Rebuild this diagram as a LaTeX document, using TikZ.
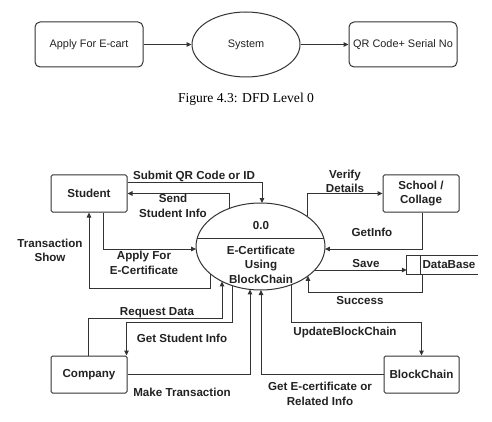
\documentclass[tikz,border=0pt]{standalone}
\usepackage{fontspec}
\setmainfont{Liberation Serif}
\setsansfont{Liberation Sans}
\usetikzlibrary{arrows.meta,shapes.geometric}
\definecolor{ln}{HTML}{333333}
\definecolor{tx}{HTML}{222222}
\begin{document}
\begin{tikzpicture}[x=1pt,y=-1pt,
 line/.style={draw=ln,line width=1pt},
 arr/.style={line,-{Triangle[length=5pt,width=4.5pt]}},
 tfont/.style={font=\sffamily\fontsize{10.9}{13}\selectfont,text=tx},
 tbox/.style={draw=ln,line width=1pt,rounded corners=5pt,minimum width=108pt,minimum height=45pt,inner sep=0pt,tfont},
 tell/.style={ellipse,draw=ln,line width=1pt,minimum width=108pt,minimum height=65pt,inner sep=0pt,tfont},
 bfont/.style={font=\sffamily\bfseries\fontsize{11.6}{14.5}\selectfont,text=tx,align=center},
 ebox/.style={draw=ln,line width=1pt,rounded corners=1.5pt,minimum width=76pt,minimum height=37pt,inner sep=0pt,bfont},
 lbl/.style={inner sep=0pt,bfont},
]
\useasboundingbox (0,0) rectangle (492,422);
\fill[white] (0,0) rectangle (492,422);
% ---- Level 0 ----
\node[tbox] (ap) at (89,44.5) {Apply For E-cart};
\node[tell] (sys) at (246,44.5) {System};
\node[tbox] (qr) at (403,44.5) {QR Code+ Serial No};
\draw[arr] (ap) -- (sys);
\draw[arr] (sys) -- (qr);
\node[font=\rmfamily\fontsize{13.6}{16}\selectfont,text=black] (cap) at (246,99) {Figure 4.3: DFD Level 0};
% ---- Level 1 ----
\node[ebox] (S) at (89,193.5) {Student};
\node[ebox] (Sc) at (421,193.5) {School /\\Collage};
\node[ebox] (Co) at (89,374.5) {Company};
\node[ebox,minimum width=75pt] (BC) at (421.5,374.5) {BlockChain};
\node[ellipse,draw=ln,line width=1pt,minimum width=129pt,minimum height=87pt,inner sep=0pt] (E) at (260.5,246.5) {};
\draw[line] (197.2,238) -- (323.8,238);
\node[lbl] (e0) at (261,226) {0.0};
\node[lbl] (et) at (261,264.5) {E-Certificate\\Using\\BlockChain};
% database
\node[minimum width=71pt,minimum height=18pt,inner sep=0pt] (db) at (442.5,265) {};
\draw[line] (db.north east) -- (db.north west) -- (db.south west) -- (db.south east);
\draw[line] ([xshift=14pt]db.north west) -- ([xshift=14pt]db.south west);
\node[lbl] (dbt) at (449,265) {DataBase};
% ellipse boundary points
\coordinate (eSub) at (262,203);
\coordinate (eSend) at (229,208.5);
\coordinate (eVer) at (307,216.4);
\coordinate (eApp) at (196.1,249);
\coordinate (eGI) at (324.9,249);
\coordinate (eSave) at (314.8,270);
\coordinate (eTS) at (210,273.6);
\coordinate (eSuc) at (308,275.9);
\coordinate (eUpd) at (291,284.8);
\coordinate (eRD) at (222,281.4);
\coordinate (eGS) at (232,285.5);
\coordinate (eMT) at (250,289.4);
\coordinate (eGE) at (261,290);
% connectors
\draw[arr] ([yshift=11.5pt]S.east) -| (eSub);
\draw[arr] (eSend) |- (S.east);
\draw[arr] ([xshift=14pt]S.south) |- (eApp);
\draw[arr] (eTS) -- ++(0,14.4) -| (S.south);
\draw[arr] (eVer) |- (Sc.west);
\draw[arr] ([xshift=1pt]Sc.south) |- (eGI);
\draw[arr] (eSave) -- (db.west |- eSave);
\draw[arr] ([xshift=16pt]db.south west) -- ++(0,18) -| (eSuc);
\draw[arr] (eUpd) -- ++(0,37.2) -| (BC.north);
\draw[arr] (BC.west) -| (eGE);
\draw[arr] (Co.east) -| (eMT);
\draw[arr] ([xshift=-1pt]Co.north) -- ++(0,-37) -| (eRD);
\draw[arr] (eGS) -- ++(0,36.5) -| ([xshift=-1pt]Co.north east);
% labels
\node[lbl] (l1) at (194,176) {Submit QR Code or ID};
\node[lbl] (l2) at (173,206) {Send\\Student Info};
\node[lbl] (l3) at (144,263) {Apply For\\E-Certificate};
\node[lbl] (l4) at (50,250.5) {Transaction\\Show};
\node[lbl] (l5) at (345,181.5) {Verify\\Details};
\node[lbl] (l6) at (372,232) {GetInfo};
\node[lbl] (l7) at (366,264) {Save};
\node[lbl] (l8) at (360,301) {Success};
\node[lbl] (l9) at (345,332) {UpdateBlockChain};
\node[lbl] (l10) at (320,394) {Get E-certificate or\\Related Info};
\node[lbl] (l11) at (182,392) {Make Transaction};
\node[lbl] (l12) at (157,313) {Request Data};
\node[lbl] (l13) at (182,338) {Get Student Info};
\end{tikzpicture}
\end{document}
